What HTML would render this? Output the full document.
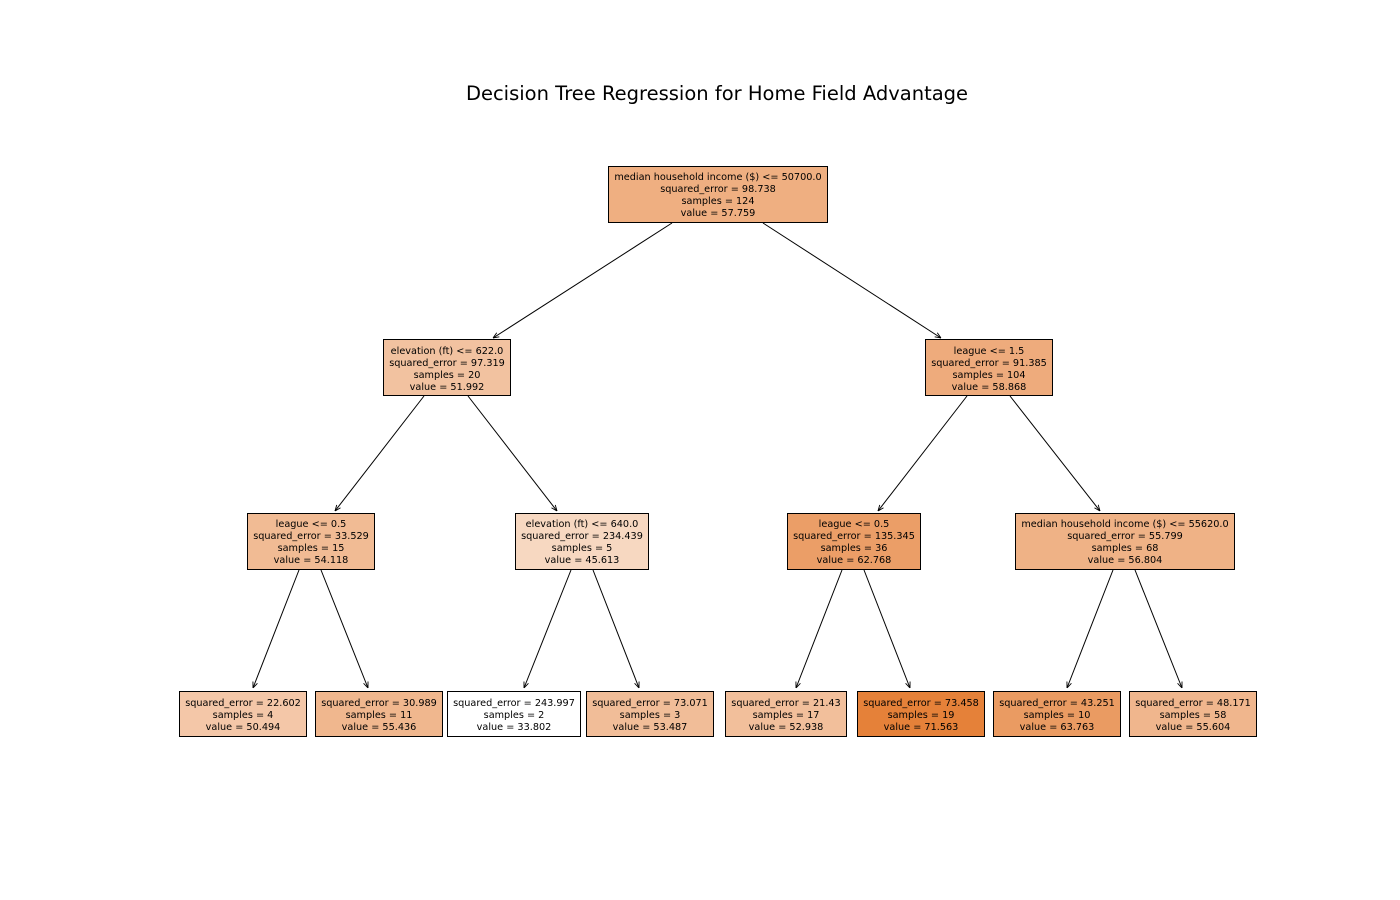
<!DOCTYPE html>
<html><head><meta charset="utf-8"><style>
body{margin:0;background:#fff;}
svg{display:block;}
text{font-family:"DejaVu Sans","Liberation Sans",sans-serif;font-size:9.7px;fill:#000;}
.t{font-size:19.5px;}
rect{stroke:#000;stroke-width:1;}
line{stroke:#000;stroke-width:1;}
</style></head><body>
<svg width="1400" height="900" viewBox="0 0 1400 900">
<defs><marker id="a" viewBox="0 0 10 10" refX="10" refY="5" markerWidth="6" markerHeight="6" orient="auto"><path d="M0,1 L10,5 L0,9" fill="none" stroke="#000" stroke-width="1.5"/></marker></defs>
<text class="t" x="717" y="100" text-anchor="middle">Decision Tree Regression for Home Field Advantage</text>
<g>
<line x1="672" y1="223" x2="493" y2="338" marker-end="url(#a)"/>
<line x1="763" y1="223" x2="941" y2="338" marker-end="url(#a)"/>
<line x1="424" y1="396" x2="335" y2="511" marker-end="url(#a)"/>
<line x1="468" y1="396" x2="557" y2="511" marker-end="url(#a)"/>
<line x1="967" y1="396" x2="878" y2="511" marker-end="url(#a)"/>
<line x1="1010" y1="396" x2="1100" y2="511" marker-end="url(#a)"/>
<line x1="299" y1="570" x2="253" y2="688" marker-end="url(#a)"/>
<line x1="321" y1="570" x2="368" y2="688" marker-end="url(#a)"/>
<line x1="571" y1="570" x2="524" y2="688" marker-end="url(#a)"/>
<line x1="593" y1="570" x2="639" y2="688" marker-end="url(#a)"/>
<line x1="842" y1="570" x2="796" y2="688" marker-end="url(#a)"/>
<line x1="864" y1="570" x2="910" y2="688" marker-end="url(#a)"/>
<line x1="1113" y1="570" x2="1067" y2="688" marker-end="url(#a)"/>
<line x1="1135" y1="570" x2="1182" y2="688" marker-end="url(#a)"/>
</g>
<g text-anchor="middle">
<rect x="608.5" y="166.5" width="219" height="56" fill="rgb(239,175,129)"/>
<text x="718" y="180">median household income ($) &lt;= 50700.0</text><text x="718" y="192">squared_error = 98.738</text><text x="718" y="204">samples = 124</text><text x="718" y="216">value = 57.759</text>

<rect x="383.5" y="339.5" width="127" height="56" fill="rgb(242,194,160)"/>
<text x="447" y="354">elevation (ft) &lt;= 622.0</text><text x="447" y="366">squared_error = 97.319</text><text x="447" y="378">samples = 20</text><text x="447" y="390">value = 51.992</text>

<rect x="925.5" y="339.5" width="127" height="56" fill="rgb(238,171,124)"/>
<text x="989" y="354">league &lt;= 1.5</text><text x="989" y="366">squared_error = 91.385</text><text x="989" y="378">samples = 104</text><text x="989" y="390">value = 58.868</text>

<rect x="247.5" y="513.5" width="127" height="56" fill="rgb(241,187,148)"/>
<text x="311" y="527">league &lt;= 0.5</text><text x="311" y="539">squared_error = 33.529</text><text x="311" y="551">samples = 15</text><text x="311" y="563">value = 54.118</text>

<rect x="515.5" y="513.5" width="133" height="56" fill="rgb(247,216,193)"/>
<text x="582" y="527">elevation (ft) &lt;= 640.0</text><text x="582" y="539">squared_error = 234.439</text><text x="582" y="551">samples = 5</text><text x="582" y="563">value = 45.613</text>

<rect x="787.5" y="513.5" width="133" height="56" fill="rgb(235,158,103)"/>
<text x="854" y="527">league &lt;= 0.5</text><text x="854" y="539">squared_error = 135.345</text><text x="854" y="551">samples = 36</text><text x="854" y="563">value = 62.768</text>

<rect x="1015.5" y="513.5" width="219" height="56" fill="rgb(239,178,134)"/>
<text x="1125" y="527">median household income ($) &lt;= 55620.0</text><text x="1125" y="539">squared_error = 55.799</text><text x="1125" y="551">samples = 68</text><text x="1125" y="563">value = 56.804</text>

<rect x="179.5" y="691.5" width="127" height="45" fill="rgb(244,199,168)"/>
<text x="243" y="706">squared_error = 22.602</text><text x="243" y="718">samples = 4</text><text x="243" y="730">value = 50.494</text>

<rect x="315.5" y="691.5" width="127" height="45" fill="rgb(240,183,142)"/>
<text x="379" y="706">squared_error = 30.989</text><text x="379" y="718">samples = 11</text><text x="379" y="730">value = 55.436</text>

<rect x="447.5" y="691.5" width="133" height="45" fill="#ffffff"/>
<text x="514" y="706">squared_error = 243.997</text><text x="514" y="718">samples = 2</text><text x="514" y="730">value = 33.802</text>

<rect x="586.5" y="691.5" width="127" height="45" fill="rgb(241,189,152)"/>
<text x="650" y="706">squared_error = 73.071</text><text x="650" y="718">samples = 3</text><text x="650" y="730">value = 53.487</text>

<rect x="725.5" y="691.5" width="121" height="45" fill="rgb(242,191,155)"/>
<text x="786" y="706">squared_error = 21.43</text><text x="786" y="718">samples = 17</text><text x="786" y="730">value = 52.938</text>

<rect x="857.5" y="691.5" width="127" height="45" fill="#e58139"/>
<text x="921" y="706">squared_error = 73.458</text><text x="921" y="718">samples = 19</text><text x="921" y="730">value = 71.563</text>

<rect x="993.5" y="691.5" width="127" height="45" fill="rgb(234,155,98)"/>
<text x="1057" y="706">squared_error = 43.251</text><text x="1057" y="718">samples = 10</text><text x="1057" y="730">value = 63.763</text>

<rect x="1129.5" y="691.5" width="127" height="45" fill="rgb(240,182,141)"/>
<text x="1193" y="706">squared_error = 48.171</text><text x="1193" y="718">samples = 58</text><text x="1193" y="730">value = 55.604</text>
</g>
</svg>
</body></html>
